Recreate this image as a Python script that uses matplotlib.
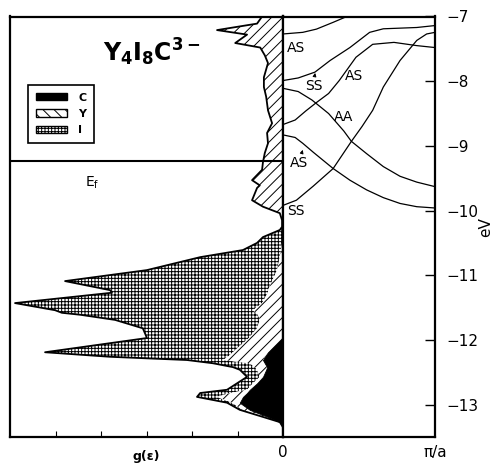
import matplotlib
matplotlib.use("Agg")
import matplotlib.pyplot as plt
from matplotlib.patches import Patch
import numpy as np

plt.rcParams['font.family'] = ['DejaVu Sans']
plt.rcParams['hatch.linewidth'] = 0.7

# ---------------- DOS data (energy in eV, g in arbitrary units) ----------------
dos_E = [-7.00, -7.11, -7.21, -7.28, -7.41, -7.48, -7.60, -7.72, -7.94, -8.09,
         -8.24, -8.45, -8.65, -8.80, -8.96, -9.11, -9.25, -9.37, -9.53, -9.61,
         -9.65, -9.84, -9.94, -10.04, -10.15, -10.25,
         -10.30, -10.41, -10.50, -10.61, -10.72, -10.92, -11.09, -11.23, -11.27,
         -11.43, -11.54, -11.58, -11.61, -11.69, -11.82, -11.97, -12.19, -12.26,
         -12.31, -12.36, -12.42, -12.46, -12.57, -12.67, -12.77, -12.82, -12.88,
         -12.97, -13.08, -13.19, -13.27, -13.35, -13.50]

g_total = [0.46, 0.57, 1.45, 0.79, 1.05, 0.50, 0.40, 0.33, 0.42, 0.42,
           0.37, 0.33, 0.24, 0.35, 0.33, 0.40, 0.44, 0.46, 0.68, 0.51,
           0.57, 0.68, 0.44, 0.07, 0.02, 0.02,
           0.07, 0.44, 0.57, 0.88, 1.82, 2.99, 4.79, 3.80, 3.76,
           5.89, 5.01, 4.86, 4.46, 3.69, 3.08, 2.99, 5.23, 3.80,
           2.11, 1.54, 1.10, 0.95, 0.79, 1.01, 1.23, 1.82, 1.89,
           1.23, 0.95, 0.44, 0.07, 0.00, 0.00]

g_YC = [0.46, 0.57, 1.45, 0.79, 1.05, 0.50, 0.40, 0.33, 0.42, 0.42,
        0.37, 0.33, 0.24, 0.35, 0.33, 0.40, 0.44, 0.46, 0.68, 0.51,
        0.57, 0.68, 0.44, 0.07, 0.02, 0.02,
        0.01, 0.01, 0.02, 0.04, 0.07, 0.13, 0.24, 0.33, 0.33,
        0.46, 0.66, 0.59, 0.55, 0.51, 0.57, 0.75, 1.10, 1.21,
        1.32, 0.73, 0.62, 0.57, 0.51, 0.66, 0.79, 1.16, 1.45,
        1.12, 0.90, 0.44, 0.07, 0.00, 0.00]

g_C = [0.0] * 26 + [0.0, 0.0, 0.0, 0.0, 0.0, 0.0, 0.0, 0.0, 0.0,
                    0.0, 0.0, 0.0, 0.0, 0.0, 0.0, 0.02, 0.33, 0.40,
                    0.44, 0.40, 0.35, 0.37, 0.44, 0.57, 0.73, 0.79, 0.88,
                    0.95, 0.73, 0.33, 0.07, 0.00, 0.00]

E_fermi = -9.23

# ---------------- band structure data (k in units of pi/a) ----------------
band1_k = [0.0, 0.13, 0.22, 0.33, 0.40, 0.47]
band1_E = [-7.27, -7.245, -7.195, -7.09, -7.02, -6.95]
band2_k = [0.0, 0.10, 0.21, 0.31, 0.44, 0.57, 0.66, 0.88, 1.0]
band2_E = [-7.99, -7.95, -7.86, -7.68, -7.48, -7.245, -7.19, -7.17, -7.14]
band3_k = [0.0, 0.08, 0.15, 0.22, 0.30, 0.37, 0.48, 0.59, 0.73, 0.88, 1.0]
band3_E = [-8.67, -8.60, -8.46, -8.33, -8.19, -7.99, -7.63, -7.43, -7.40, -7.45, -7.48]
band4_k = [0.0, 0.10, 0.19, 0.30, 0.40, 0.45, 0.55, 0.66, 0.77, 0.88, 1.0]
band4_E = [-8.11, -8.16, -8.29, -8.50, -8.77, -8.93, -9.12, -9.32, -9.47, -9.56, -9.63]
band5_k = [0.0, 0.08, 0.13, 0.20, 0.33, 0.44, 0.55, 0.66, 0.77, 0.88, 1.0]
band5_E = [-8.83, -8.87, -8.96, -9.10, -9.35, -9.53, -9.68, -9.80, -9.89, -9.94, -9.96]
band6_k = [0.0, 0.088, 0.20, 0.33, 0.45, 0.52, 0.59, 0.66, 0.77, 0.88, 0.945, 1.0]
band6_E = [-9.92, -9.84, -9.62, -9.35, -8.93, -8.70, -8.45, -8.09, -7.68, -7.37, -7.27, -7.245]
bands = [(band1_k, band1_E), (band2_k, band2_E), (band3_k, band3_E),
         (band4_k, band4_E), (band5_k, band5_E), (band6_k, band6_E)]

energy_ticks = [-7, -8, -9, -10, -11, -12, -13]

# ---------------- figure ----------------
fig = plt.figure(figsize=(4.97, 4.66), dpi=100)
ax1 = fig.add_axes([10/497, 29/466, 273/497, 420.5/466])
ax2 = fig.add_axes([283/497, 29/466, 152/497, 420.5/466])

ylim = (-13.5, -7.0)

# DOS panel
E = np.array(dos_E)
ax1.fill_betweenx(E, g_YC, g_total, facecolor='white', edgecolor='black',
                  hatch='+++++', linewidth=0)
ax1.fill_betweenx(E, g_C, g_YC, facecolor='white', edgecolor='black',
                  hatch='///', linewidth=0)
ax1.fill_betweenx(E, 0, g_C, facecolor='black', edgecolor='black', linewidth=0.6)
ax1.plot(g_total, E, color='black', lw=1.3)
ax1.axhline(E_fermi, color='black', lw=1.5)
ax1.set_xlim(6, 0)
ax1.set_ylim(*ylim)
ax1.set_yticks([])
ax1.set_xticks([1, 2, 3, 4, 5])
ax1.set_xticklabels([])
ax1.tick_params(axis='x', direction='in', length=4, width=0.8)
ax1.set_xlabel('g(ε)', fontsize=9, fontweight='bold', labelpad=6)
for s in ax1.spines.values():
    s.set_linewidth(1.6)

ax1.text(0.52, 0.915, r'$\mathbf{Y_4I_8C^{3-}}$', transform=ax1.transAxes,
         fontsize=17, ha='center', va='center')
ax1.text(0.30, 0.605, r'E$_\mathrm{f}$', transform=ax1.transAxes,
         fontsize=10, ha='center', va='center')

handles = [Patch(facecolor='black', edgecolor='black'),
           Patch(facecolor='white', edgecolor='black', hatch='\\\\\\'),
           Patch(facecolor='white', edgecolor='black', hatch='+++++')]
leg = ax1.legend(handles, ['C', 'Y', 'I'], loc='upper left',
                 bbox_to_anchor=(0.066, 0.837), borderaxespad=0,
                 fancybox=False, framealpha=1, edgecolor='black',
                 handlelength=2.8, handleheight=0.6, handletextpad=1.0,
                 labelspacing=0.55, borderpad=0.7,
                 prop={'weight': 'bold', 'size': 8})
leg.get_frame().set_linewidth(1.2)

# Band panel
for k, e in bands:
    ax2.plot(k, e, color='black', lw=0.9)
ax2.set_xlim(0, 1)
ax2.set_ylim(*ylim)
ax2.yaxis.tick_right()
ax2.set_yticks(energy_ticks)
ax2.tick_params(axis='y', direction='in', length=7, width=1.0, labelsize=11, pad=8)
ax2.set_xticks([0, 1])
ax2.set_xticklabels(['0', 'π/a'], fontsize=11)
ax2.tick_params(axis='x', length=0, pad=6)
ax2.yaxis.set_label_position('right')
ax2.set_ylabel('eV', fontsize=11, labelpad=0)
for s in ax2.spines.values():
    s.set_linewidth(1.6)

lab = dict(fontsize=10, ha='center', va='center')
ax2.text(0.086, -7.49, 'AS', **lab)
ax2.text(0.205, -8.07, 'SS', **lab)
ax2.text(0.464, -7.92, 'AS', **lab)
ax2.text(0.397, -8.55, 'AA', **lab)
ax2.text(0.106, -9.26, 'AS', **lab)
ax2.text(0.086, -10.00, 'SS', **lab)
ap = dict(arrowstyle='-|>', lw=0.7, color='black', mutation_scale=5)
ax2.annotate('', xy=(0.215, -7.83), xytext=(0.205, -7.96), arrowprops=ap)
ax2.annotate('', xy=(0.135, -9.02), xytext=(0.12, -9.14), arrowprops=ap)

fig.savefig('out.png', dpi=100)
